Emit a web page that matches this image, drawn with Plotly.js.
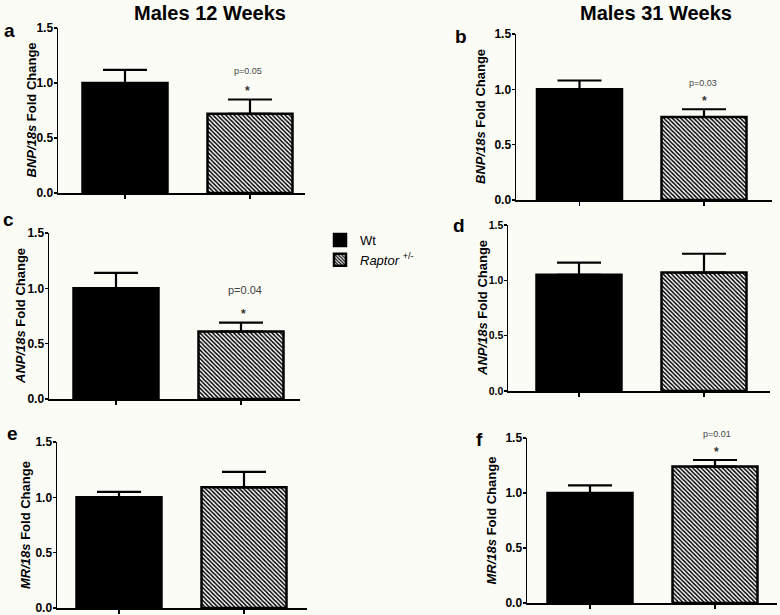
<!DOCTYPE html>
<html>
<head>
<meta charset="utf-8">
<script src="https://cdn.plot.ly/plotly-3.0.1.min.js"></script>
<style>html,body{margin:0;padding:0;background:#fcfcf7;}#chart{width:780px;height:615px;}</style>
</head>
<body>
<div id="chart"></div>
<script>
// ---- data ----
const categories = ['Wt', 'Raptor'];
const panelLetters = ['a', 'b', 'c', 'd', 'e', 'f'];
const genes = ['BNP', 'BNP', 'ANP', 'ANP', 'MR', 'MR'];
const wtMean = [1.00, 1.00, 1.00, 1.05, 1.00, 1.00];
const wtErr = [0.12, 0.08, 0.14, 0.11, 0.05, 0.07];
const raptorMean = [0.72, 0.75, 0.61, 1.07, 1.09, 1.24];
const raptorErr = [0.13, 0.07, 0.08, 0.17, 0.14, 0.06];
const pValues = ['p=0.05', 'p=0.03', 'p=0.04', '', '', 'p=0.01'];
const columnTitles = ['Males 12 Weeks', 'Males 31 Weeks'];
const yTicks = [0, 0.5, 1.0, 1.5];

// ---- layout geometry (pixels) ----
const W = 780, H = 615;
// [axisLeft, firstTick, secondTick, axisRight, yTop(1.5), yBottom(0)]
const geom = [
  [58, 125, 250, 305, 28, 193],
  [516, 579.5, 704, 772, 34, 200],
  [49, 116, 241, 300, 233, 399],
  [508, 579, 704, 770, 225, 391],
  [57, 119, 244, 307, 442, 608],
  [527, 590, 715, 777, 438, 603]
];
const letterPos = [[9, 30], [461, 36], [8, 220], [459, 226], [12, 433], [479, 439]];
const yTitleX = [31, 481, 20, 482, 25, 491];
const tickFontSize = [12, 12, 12, 10.5, 12, 12];
const pPos = [[248, 71], [703, 83], [245, 290], [0, 0], [0, 0], [717, 434]];
const starPos = [[248, 91], [704, 101], [243, 314], [0, 0], [0, 0], [716, 452]];
const pFontSize = [9, 9, 11, 9, 9, 9];
const titlePos = [[210, 13], [656, 13]];

const px = x => x / W;
const py = y => 1 - y / H;
const FONT = 'Liberation Sans, Arial, sans-serif';

const traces = [];
const layout = {
  width: W, height: H,
  margin: {l: 0, r: 0, t: 0, b: 0},
  paper_bgcolor: '#fcfcf7',
  plot_bgcolor: 'rgba(0,0,0,0)',
  barmode: 'overlay',
  font: {family: FONT, color: '#000'},
  showlegend: true,
  legend: {
    x: px(320), y: py(225), xanchor: 'left', yanchor: 'top',
    bgcolor: 'rgba(0,0,0,0)',
    font: {size: 13, family: FONT},
    tracegroupgap: 0
  },
  annotations: [],
  hovermode: false
};

for (let i = 0; i < 6; i++) {
  const g = geom[i];
  const n = i === 0 ? '' : String(i + 1);
  const xa = 'x' + n, ya = 'y' + n;
  const spacing = g[2] - g[1];
  const r0 = (g[0] - g[1]) / spacing;
  const r1 = (g[3] - g[1]) / spacing;
  const barW = 85 / spacing;

  traces.push({
    type: 'bar', x: [categories[0]], y: [wtMean[i]],
    xaxis: xa, yaxis: ya, width: barW,
    name: 'Wt', showlegend: i === 0, legendrank: 1,
    marker: {color: '#000', line: {color: '#000', width: 2.5}},
    error_y: {type: 'data', symmetric: false, array: [wtErr[i]], arrayminus: [0],
              color: '#000', thickness: 2.2, width: 22}
  });
  traces.push({
    type: 'bar', x: [categories[1]], y: [raptorMean[i]],
    xaxis: xa, yaxis: ya, width: barW,
    name: '<i>Raptor</i> <sup>+/-</sup>', showlegend: i === 0, legendrank: 2,
    marker: {color: '#ffffff', line: {color: '#000', width: 2.5},
             pattern: {shape: '\\', fgcolor: '#000', bgcolor: '#ffffff', size: 3, solidity: 0.5}},
    error_y: {type: 'data', symmetric: false, array: [raptorErr[i]], arrayminus: [0],
              color: '#000', thickness: 2.2, width: 22}
  });

  layout['xaxis' + n] = {
    domain: [px(g[0]), px(g[3])], anchor: ya,
    type: 'category', categoryarray: categories, range: [r0, r1],
    showline: true, linecolor: '#000', linewidth: 1.5,
    ticks: 'outside', ticklen: 4, tickwidth: 1.5, tickcolor: '#000',
    showticklabels: false, showgrid: false, zeroline: false, fixedrange: true
  };
  layout['yaxis' + n] = {
    domain: [py(g[5]), py(g[4])], anchor: xa,
    range: [0, 1.5], tickvals: yTicks, tickformat: '.1f',
    showline: true, linecolor: '#000', linewidth: 1.5,
    ticks: 'outside', ticklen: 3, tickwidth: 1.5, tickcolor: '#000',
    tickfont: {size: tickFontSize[i], family: FONT, weight: 'bold'},
    ticklabelstandoff: -2,
    ticklabeloverflow: 'allow',
    showgrid: false, zeroline: false, fixedrange: true
  };

  layout.annotations.push({
    xref: 'paper', yref: 'paper', x: px(yTitleX[i]), y: py((g[4] + g[5]) / 2),
    xanchor: 'center', yanchor: 'middle', showarrow: false, textangle: -90,
    text: '<b><i>' + genes[i] + '/18s</i> Fold Change</b>', font: {size: 13, family: FONT}
  });
  layout.annotations.push({
    xref: 'paper', yref: 'paper', x: px(letterPos[i][0]), y: py(letterPos[i][1]),
    xanchor: 'center', yanchor: 'middle', showarrow: false,
    text: '<b>' + panelLetters[i] + '</b>', font: {size: 19}
  });
  if (pValues[i]) {
    layout.annotations.push({
      xref: 'paper', yref: 'paper', x: px(pPos[i][0]), y: py(pPos[i][1]),
      xanchor: 'center', yanchor: 'middle', showarrow: false,
      text: pValues[i], font: {size: pFontSize[i], color: '#444'}
    });
    layout.annotations.push({
      xref: 'paper', yref: 'paper', x: px(starPos[i][0]), y: py(starPos[i][1]),
      xanchor: 'center', yanchor: 'middle', showarrow: false,
      text: '<b>*</b>', font: {size: 12, color: '#333'}
    });
  }
}

columnTitles.forEach((t, k) => {
  layout.annotations.push({
    xref: 'paper', yref: 'paper', x: px(titlePos[k][0]), y: py(titlePos[k][1]),
    xanchor: 'center', yanchor: 'middle', showarrow: false,
    text: '<b>' + t + '</b>', font: {size: 20}
  });
});

Plotly.newPlot('chart', traces, layout, {staticPlot: true, displayModeBar: false});
</script>
</body>
</html>
